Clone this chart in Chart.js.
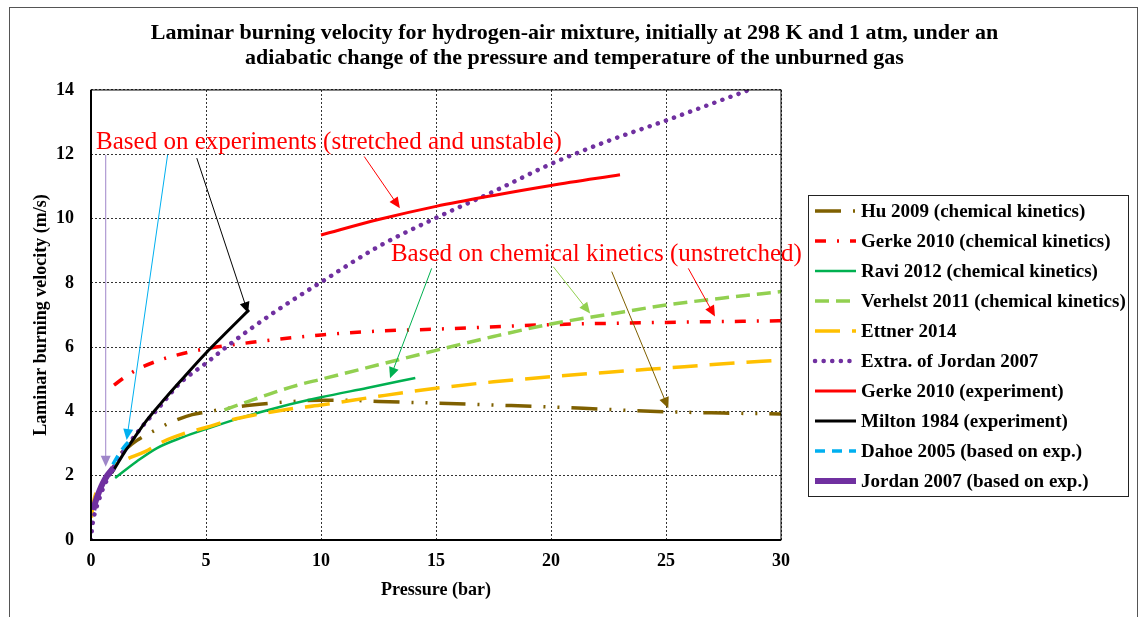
<!DOCTYPE html>
<html>
<head>
<meta charset="utf-8">
<title>Laminar burning velocity</title>
<script src="https://cdn.jsdelivr.net/npm/chart.js@4.4.1/dist/chart.umd.min.js"></script>
<style>
  html, body { margin: 0; padding: 0; background: #fff; }
  #wrap { width: 1141px; height: 617px; }
</style>
</head>
<body>
<div id="wrap"><canvas id="burnChart" width="1141" height="617"></canvas></div>
<script>
// pressure (bar) / velocity (m/s)
const huP = [1.3, 1.6, 2.0, 2.8, 3.5, 4.4, 5.0, 6.0, 7.0, 8.0, 9.0, 10.0, 11.0, 12.5, 15.0, 17.5, 20.0, 22.5, 25.0, 27.5, 30.0];
const huV = [2.7, 2.88, 3.1, 3.42, 3.67, 3.9, 3.98, 4.1, 4.2, 4.27, 4.32, 4.35, 4.35, 4.31, 4.26, 4.2, 4.14, 4.06, 3.99, 3.95, 3.92];

const gerkeChemP = [1.0, 1.5, 2.0, 3.0, 4.0, 5.0, 7.0, 10.0, 12.5, 15.0, 20.0, 25.0, 30.0];
const gerkeChemV = [4.82, 5.08, 5.3, 5.6, 5.8, 5.95, 6.15, 6.38, 6.5, 6.56, 6.7, 6.77, 6.82];

const raviP = [1.05, 2.0, 2.87, 4.0, 5.0, 6.5, 8.2, 10.0, 12.0, 14.1];
const raviV = [1.93, 2.45, 2.86, 3.2, 3.45, 3.8, 4.14, 4.44, 4.73, 5.04];

const verhelstP = [5.8, 7.0, 8.0, 9.0, 10.0, 12.5, 15.0, 17.5, 20.0, 22.5, 25.0, 27.5, 30.0];
const verhelstV = [4.05, 4.35, 4.6, 4.82, 5.0, 5.45, 5.9, 6.33, 6.72, 7.02, 7.31, 7.53, 7.73];

const ettnerP = [0.02, 0.1, 0.3, 0.5, 1.0, 1.5, 2.35, 3.1, 4.0, 5.0, 6.0, 7.2, 8.5, 10.0, 12.5, 15.0, 17.5, 20.0, 22.5, 25.0, 27.5, 30.0];
const ettnerV = [0.7, 1.15, 1.6, 1.8, 2.3, 2.5, 2.75, 3.05, 3.3, 3.5, 3.72, 3.9, 4.06, 4.2, 4.47, 4.72, 4.92, 5.08, 5.22, 5.35, 5.48, 5.6];

const extraJordanP = [0, 0.05, 0.15, 0.3, 0.5, 1.0, 2.0, 3.0, 3.87, 5.0, 6.0, 7.0, 8.0, 9.0, 10.0, 12.5, 15.0, 17.5, 20.0, 21.0, 22.5, 25.0, 26.6, 28.6];
const extraJordanV = [0, 0.4, 0.8, 1.15, 1.56, 2.29, 3.33, 4.16, 4.88, 5.5, 6.07, 6.6, 7.1, 7.57, 8.02, 9.13, 10.02, 10.84, 11.7, 12.0, 12.42, 13.05, 13.47, 14.0];

const gerkeExpP = [10.0, 12.5, 15.0, 17.5, 20.0, 23.0];
const gerkeExpV = [9.49, 9.97, 10.38, 10.72, 11.03, 11.36];

const miltonP = [0.9, 1.04, 1.5, 2.0, 2.42, 3.0, 3.87, 5.0, 6.0, 6.87];
const miltonV = [2.08, 2.24, 2.78, 3.3, 3.72, 4.22, 4.93, 5.82, 6.54, 7.16];

const dahoeP = [0.95, 1.2, 1.5, 1.8];
const dahoeV = [2.35, 2.65, 2.95, 3.17];

const jordanP = [0.1, 0.2, 0.35, 0.5, 0.7, 0.97];
const jordanV = [0.93, 1.2, 1.5, 1.75, 2.0, 2.24];

const xTicks = [0, 5, 10, 15, 20, 25, 30];
const yTicks = [0, 2, 4, 6, 8, 10, 12, 14];

// callout texts and arrows, in data units
const notes = [
  { text: 'Based on experiments (stretched and unstable)', x: 0.22, y: 12.38 },
  { text: 'Based on chemical kinetics (unstretched)', x: 13.04, y: 8.87 }
];
const arrows = [
  { from: [0.64, 11.98], to: [0.64, 2.28], color: '#9F86C9' },
  { from: [3.33, 11.98], to: [1.55, 3.11], color: '#00B0F0' },
  { from: [4.6, 11.88], to: [6.83, 7.06], color: '#000000' },
  { from: [11.88, 11.93], to: [13.43, 10.32], color: '#FF0000' },
  { from: [14.81, 8.45], to: [13.0, 5.03], color: '#00B050' },
  { from: [20.1, 8.5], to: [21.7, 7.05], color: '#92D050' },
  { from: [22.64, 8.35], to: [25.1, 4.1], color: '#7F6000' },
  { from: [25.97, 8.45], to: [27.13, 6.95], color: '#FF0000' }
];

function pts(xs, ys) {
  return xs.map((x, i) => ({ x: x, y: ys[i] }));
}

const serif = "'Liberation Serif', 'Times New Roman', serif";
Chart.defaults.font.family = serif;
Chart.defaults.color = '#000';

const datasets = [
  { label: 'Hu 2009 (chemical kinetics)', data: pts(huP, huV), borderColor: '#7F6000', borderWidth: 3.5, borderDash: [26, 12, 2, 12, 2, 12] },
  { label: 'Gerke 2010 (chemical kinetics)', data: pts(gerkeChemP, gerkeChemV), borderColor: '#FF0000', borderWidth: 3.5, borderDash: [11, 11, 2, 11] },
  { label: 'Ravi 2012 (chemical kinetics)', data: pts(raviP, raviV), borderColor: '#00B050', borderWidth: 2.5 },
  { label: 'Verhelst 2011 (chemical kinetics)', data: pts(verhelstP, verhelstV), borderColor: '#92D050', borderWidth: 3.5, borderDash: [14, 7] },
  { label: 'Ettner 2014', data: pts(ettnerP, ettnerV), borderColor: '#FFC000', borderWidth: 3.5, borderDash: [25, 12] },
  { label: 'Extra. of Jordan 2007', data: pts(extraJordanP, extraJordanV), borderColor: '#7030A0', borderWidth: 4.5, borderDash: [0.1, 8.5], borderCapStyle: 'round' },
  { label: 'Gerke 2010 (experiment)', data: pts(gerkeExpP, gerkeExpV), borderColor: '#FF0000', borderWidth: 3 },
  { label: 'Milton 1984 (experiment)', data: pts(miltonP, miltonV), borderColor: '#000000', borderWidth: 3 },
  { label: 'Dahoe 2005 (based on exp.)', data: pts(dahoeP, dahoeV), borderColor: '#00B0F0', borderWidth: 3.5, borderDash: [10, 7] },
  { label: 'Jordan 2007 (based on exp.)', data: pts(jordanP, jordanV), borderColor: '#7030A0', borderWidth: 6 }
];
// Excel draws later series on top
datasets.forEach((d, i) => {
  d.order = datasets.length - i;
  d.pointRadius = 0;
  d.fill = false;
  d.cubicInterpolationMode = 'monotone';
});

const framePlugin = {
  id: 'frame',
  beforeDraw(chart) {
    const ctx = chart.ctx;
    ctx.save();
    ctx.fillStyle = '#fff';
    ctx.fillRect(0, 0, chart.width, chart.height);
    ctx.strokeStyle = '#555';
    ctx.lineWidth = 1;
    ctx.strokeRect(9.5, 7.5, 1128, 700);
    ctx.restore();
  },
  afterDatasetsDraw(chart) {
    const { ctx, chartArea: a } = chart;
    ctx.save();
    ctx.strokeStyle = '#000';
    ctx.lineWidth = 1;
    ctx.strokeRect(a.left, a.top, a.right - a.left, a.bottom - a.top);
    ctx.lineWidth = 2;
    ctx.beginPath();
    ctx.moveTo(a.left, a.top);
    ctx.lineTo(a.left, a.bottom);
    ctx.lineTo(a.right, a.bottom);
    ctx.stroke();
    ctx.restore();
  }
};

const notesPlugin = {
  id: 'notes',
  afterDraw(chart) {
    const { ctx, scales: { x, y } } = chart;
    ctx.save();
    arrows.forEach(a => {
      const x1 = x.getPixelForValue(a.from[0]), y1 = y.getPixelForValue(a.from[1]);
      const x2 = x.getPixelForValue(a.to[0]), y2 = y.getPixelForValue(a.to[1]);
      const ang = Math.atan2(y2 - y1, x2 - x1);
      ctx.strokeStyle = a.color;
      ctx.fillStyle = a.color;
      ctx.lineWidth = 1;
      ctx.beginPath();
      ctx.moveTo(x1, y1);
      ctx.lineTo(x2 - 9 * Math.cos(ang), y2 - 9 * Math.sin(ang));
      ctx.stroke();
      ctx.beginPath();
      ctx.moveTo(x2, y2);
      ctx.lineTo(x2 - 11 * Math.cos(ang) + 5 * Math.sin(ang), y2 - 11 * Math.sin(ang) - 5 * Math.cos(ang));
      ctx.lineTo(x2 - 11 * Math.cos(ang) - 5 * Math.sin(ang), y2 - 11 * Math.sin(ang) + 5 * Math.cos(ang));
      ctx.closePath();
      ctx.fill();
    });
    ctx.fillStyle = '#FF0000';
    ctx.font = '25px ' + serif;
    ctx.textBaseline = 'middle';
    ctx.textAlign = 'left';
    notes.forEach(n => {
      ctx.fillText(n.text, x.getPixelForValue(n.x), y.getPixelForValue(n.y));
    });
    ctx.restore();
  }
};

const legendPlugin = {
  id: 'boxLegend',
  afterDraw(chart) {
    const ctx = chart.ctx;
    const bx = 808, by = 195, bw = 320, bh = 301;
    ctx.save();
    ctx.fillStyle = '#fff';
    ctx.fillRect(bx, by, bw, bh);
    ctx.strokeStyle = '#222';
    ctx.lineWidth = 1;
    ctx.strokeRect(bx + 0.5, by + 0.5, bw, bh);
    ctx.font = 'bold 19px ' + serif;
    ctx.textBaseline = 'middle';
    ctx.fillStyle = '#000';
    chart.data.datasets.forEach((d, i) => {
      const rowY = 211 + i * 30;
      ctx.save();
      ctx.strokeStyle = d.borderColor;
      ctx.lineWidth = d.borderWidth;
      ctx.lineCap = d.borderCapStyle || 'butt';
      ctx.setLineDash(d.borderDash || []);
      ctx.beginPath();
      ctx.moveTo(815, rowY);
      ctx.lineTo(856, rowY);
      ctx.stroke();
      ctx.restore();
      ctx.fillText(d.label, 861, rowY + 1);
    });
    ctx.restore();
  }
};

const ctx = document.getElementById('burnChart').getContext('2d');
new Chart(ctx, {
  type: 'line',
  data: { datasets: datasets },
  options: {
    responsive: false,
    animation: false,
    devicePixelRatio: 1,
    layout: { padding: { left: 8, right: 0, top: 0, bottom: 0 } },
    plugins: {
      legend: { display: false },
      tooltip: { enabled: false },
      title: {
        display: true,
        text: [
          'Laminar burning velocity for hydrogen-air mixture, initially at 298 K and 1 atm, under an',
          'adiabatic change of the pressure and temperature of the unburned gas'
        ],
        font: { family: serif, size: 22, weight: 'bold', lineHeight: 1.136 },
        color: '#000',
        padding: { top: 20.5, bottom: 19.5 }
      }
    },
    scales: {
      x: {
        type: 'linear',
        min: 0,
        max: 30,
        afterBuildTicks: s => { s.ticks = xTicks.map(v => ({ value: v })); },
        afterFit: s => { s.height = 77; },
        ticks: { font: { family: serif, size: 18, weight: 'bold' }, padding: 11, color: '#000' },
        grid: { color: '#333', lineWidth: 1, drawTicks: false },
        border: { display: false, dash: [2, 2] },
        title: { display: true, text: 'Pressure (bar)', font: { family: serif, size: 18, weight: 'bold' }, padding: { top: 0, bottom: 16 }, color: '#000' }
      },
      y: {
        type: 'linear',
        min: 0,
        max: 14,
        afterBuildTicks: s => { s.ticks = yTicks.map(v => ({ value: v })); },
        afterFit: s => { s.width = 83; },
        ticks: { font: { family: serif, size: 18, weight: 'bold' }, padding: 17, color: '#000' },
        grid: { color: '#333', lineWidth: 1, drawTicks: false },
        border: { display: false, dash: [2, 2] },
        title: { display: true, text: 'Laminar burning velocity (m/s)', font: { family: serif, size: 18, weight: 'bold' }, padding: { top: 23, bottom: 0 }, color: '#000' }
      },
      // empty right-hand axis that only reserves the room used by the legend box
      legendSpace: {
        type: 'linear',
        position: 'right',
        min: 0,
        max: 14,
        display: true,
        afterFit: s => { s.width = 360; },
        ticks: { display: false },
        grid: { display: false, drawOnChartArea: false },
        border: { display: false }
      }
    }
  },
  plugins: [framePlugin, notesPlugin, legendPlugin]
});
</script>
</body>
</html>
